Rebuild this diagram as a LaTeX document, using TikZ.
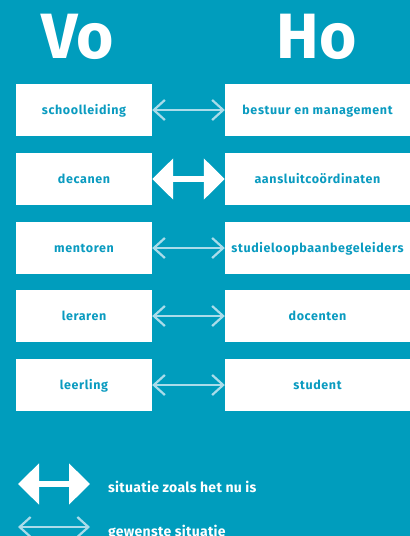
\documentclass[tikz,border=0pt]{standalone}
\usepackage{fontspec}
\setmainfont{Fira Sans}
\newfontfamily\boxfont[LetterSpace=5]{Fira Sans}
\newfontfamily\legfont[LetterSpace=2]{Fira Sans}
\usetikzlibrary{arrows.meta}
\definecolor{bg}{RGB}{0,157,189}
\definecolor{txt}{RGB}{10,155,192}
\definecolor{lightarr}{RGB}{170,220,234}
\tikzset{
  box/.style={fill=white, draw=none, minimum height=52pt, inner sep=0pt, text height=9pt, text depth=0pt, text=txt, font=\boxfont\bfseries\fontsize{12.5}{14}\selectfont},
  lbox/.style={box, minimum width=136pt},
  rbox/.style={box, minimum width=185pt},
  wish/.style={draw=lightarr, line width=2.2pt, {Straight Barb[length=11pt,width=20pt]}-{Straight Barb[length=11pt,width=20pt]}},
  now/.style={draw=white, line width=6.5pt, {Triangle[length=21pt,width=40pt]}-{Triangle[length=21pt,width=40pt]}},
  title/.style={text=white, font=\bfseries\fontsize{64}{64}\selectfont, inner sep=0pt},
  legend/.style={text=white, font=\legfont\bfseries\fontsize{14}{16}\selectfont, inner sep=0pt, anchor=base west}
}
\begin{document}
\begin{tikzpicture}[x=1pt,y=1pt]
\useasboundingbox (0,0) rectangle (410,-536);
\fill[bg] (0,0) rectangle (410,-536);
\node[title] (vo) at (77.5,-37) {Vo};
\node[title] (ho) at (316.5,-37) {Ho};
\foreach \i/\y/\a/\b in {1/110/schoolleiding/bestuur en management,
                         2/179/decanen/aansluitcoördinaten,
                         3/248/mentoren/studieloopbaanbegeleiders,
                         4/316/leraren/docenten,
                         5/385/leerling/student}{
  \node[lbox] (l\i) at (84,-\y) {\a};
  \node[rbox] (r\i) at (317.5,-\y) {\b};
}
\draw[wish] (l1.east) -- (r1.west);
\draw[now] (l2.east) -- (r2.west);
\draw[wish] (l3.east) -- (r3.west);
\draw[wish] (l4.east) -- (r4.west);
\draw[wish] (l5.east) -- (r5.west);
\coordinate (a1) at (18,-484);
\coordinate (a2) at (90,-484);
\coordinate (b1) at (18,-527);
\coordinate (b2) at (90,-527);
\draw[now] (a1) -- (a2);
\draw[wish] (b1) -- (b2);
\node[legend] (t1) at (108,-492) {situatie zoals het nu is};
\node[legend] (t2) at (108,-536) {gewenste situatie};
\end{tikzpicture}
\end{document}
